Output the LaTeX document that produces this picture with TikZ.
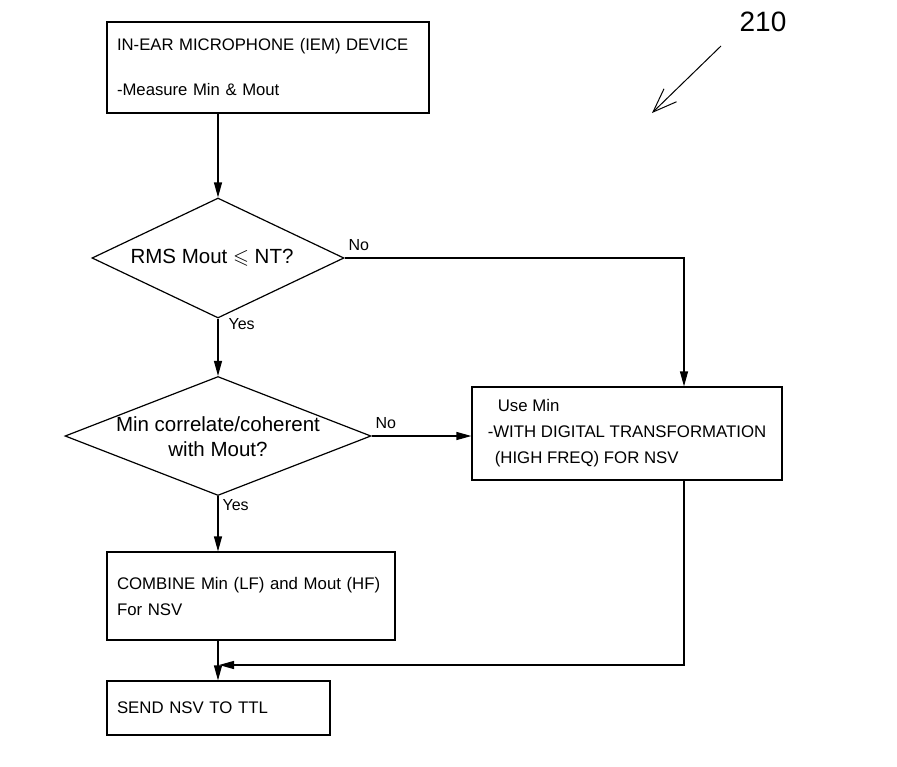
\documentclass[tikz,border=0pt]{standalone}
\usepackage{fontspec}
\usepackage{amssymb}
\setmainfont{Liberation Sans}
\usetikzlibrary{arrows.meta,shapes.geometric}
\begin{document}
\begin{tikzpicture}[x=1pt,y=-1pt,
  line width=1.2pt,
  arr/.style={-{Triangle[length=15pt,width=8pt]}},
  boxnode/.style={draw,rectangle,align=left,inner ysep=0pt,font=\fontsize{16.8}{26}\selectfont},
  dia/.style={draw,diamond,inner sep=0pt},
  lbl/.style={font=\fontsize{16}{18}\selectfont,inner sep=0pt},
  dtext/.style={font=\fontsize{20.5}{25}\selectfont,align=center,inner sep=0pt}]
\useasboundingbox (0,0) rectangle (897,766);
% boxes
\node[boxnode,minimum width=322pt,minimum height=91pt,inner xsep=10pt,text width=302pt,
  font=\fontsize{16.7}{45}\selectfont] (top) at (268,67.5)
  {IN-EAR MICROPHONE (IEM) DEVICE\\-Measure Min \& Mout};
\node[dia,minimum width=252pt,minimum height=120pt] (d1) at (218,258) {};
\node[dtext] (d1t) at (212,258) {RMS Mout $\leqslant$ NT?};
\node[dia,minimum width=306pt,minimum height=119pt] (d2) at (218,436) {};
\node[dtext] (d2t) at (218,437) {Min correlate/coherent\\with Mout?};
\node[boxnode,minimum width=310pt,minimum height=93pt,inner xsep=14pt] (rb) at (627,433.5)
  {\hspace*{10pt}Use Min\\-WITH DIGITAL TRANSFORMATION\\\hspace*{7pt}(HIGH FREQ) FOR NSV};
\node[boxnode,minimum width=288pt,minimum height=88pt,inner xsep=10pt,text width=268pt] (cb) at (251,596)
  {COMBINE Min (LF) and Mout (HF)\\For NSV};
\node[boxnode,minimum width=223pt,minimum height=54pt,inner xsep=10pt,text width=203pt] (sb) at (218.5,708)
  {SEND NSV TO TTL};
\coordinate (rcol) at (684,0);
\coordinate (mrg) at (219,665);
% connectors
\draw[arr] (d1.north |- top.south) -- (d1.north);
\draw[arr] (d1.east) -| (rb.north -| rcol);
\node[lbl,anchor=south west] (no1) at (348,251) {No};
\draw[arr] (d1.south) -- (d2.north);
\node[lbl,anchor=north west] (yes1) at (228,318) {Yes};
\draw[arr] (d2.east) -- (rb.west |- d2.east);
\node[lbl,anchor=south west] (no2) at (375,429) {No};
\draw[arr] (d2.south) -- (cb.north -| d2.south);
\node[lbl,anchor=north west] (yes2) at (222,499) {Yes};
\draw[arr] (rb.south -| rcol) |- (mrg);
\draw[arr] (cb.south -| d2.south) -- (sb.north -| d2.south);
% reference numeral
\node[font=\fontsize{28}{32}\selectfont,inner sep=0pt] (ref) at (763,22) {210};
\coordinate (rs) at (721,46);
\coordinate (re) at (652,113);
\draw[line width=1pt,-{Straight Barb[length=24pt,width=18pt]}] (rs) -- (re);
\end{tikzpicture}
\end{document}
